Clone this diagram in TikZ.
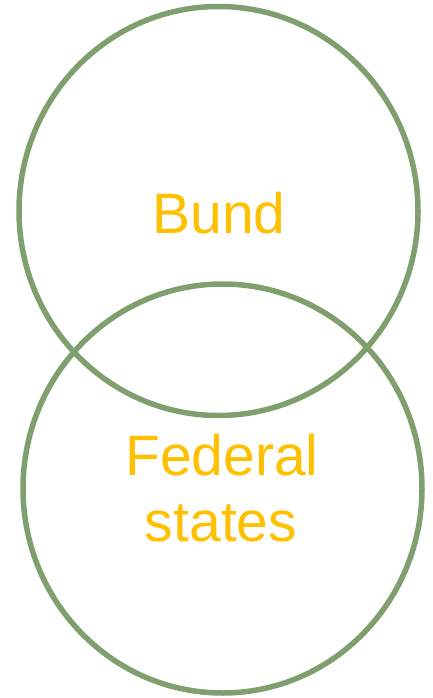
\documentclass[tikz,border=0pt]{standalone}
\usepackage{fontspec}
\setmainfont{Liberation Sans}
\usetikzlibrary{shapes.geometric}
\definecolor{vennsage}{HTML}{7F9F6F}
\definecolor{venngold}{HTML}{FFC000}

\begin{document}
\begin{tikzpicture}[x=1pt, y=-1pt, set/.style={ellipse, draw=vennsage, line width=5.5pt,
    minimum width=399pt, minimum height=409pt, inner sep=0pt},
    lbl/.style={text=venngold, anchor=base, inner sep=0pt, font=\fontsize{57}{66}\selectfont}]
    \useasboundingbox (0,0) rectangle (432,698);
    \node[set] (bund) at (218.5,211) {};
    \node[set] (states) at (222.5,488.5) {};

    \node[lbl] (bundtxt) at (219,233.3) {Bund};
    \node[lbl] (fedtxt) at (222,475) {Federal};
    \node[lbl] (statestxt) at (221,541.7) {states};
  \end{tikzpicture}
\end{document}
